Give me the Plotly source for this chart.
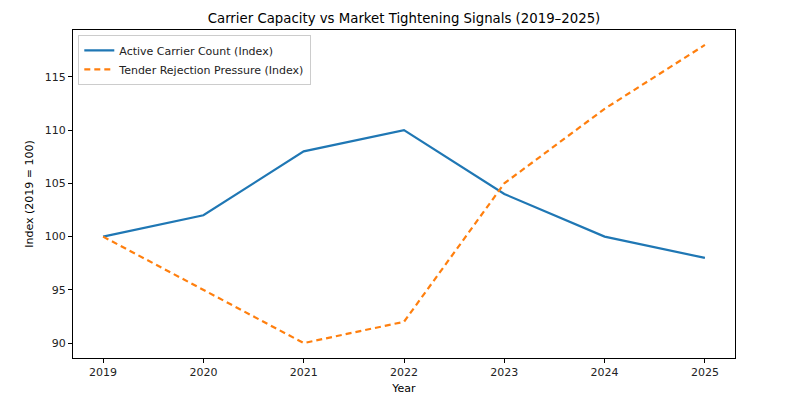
import plotly.graph_objects as go

years = [2019, 2020, 2021, 2022, 2023, 2024, 2025]
active_carriers = [100, 102, 108, 110, 104, 100, 98]
tender_rejection = [100, 95, 90, 92, 105, 112, 118]
y_ticks = [90, 95, 100, 105, 110, 115]

font = "DejaVu Sans"
fig = go.Figure()
fig.add_trace(go.Scatter(x=years, y=active_carriers, mode="lines",
                         name="Active Carrier Count (Index)",
                         line=dict(color="#1f77b4", width=2.2)))
fig.add_trace(go.Scatter(x=years, y=tender_rejection, mode="lines",
                         name="Tender Rejection Pressure (Index)",
                         line=dict(color="#ff7f0e", width=2.2, dash="6px,4px")))

axis_common = dict(showgrid=False, zeroline=False, showline=True, linecolor="black",
                   linewidth=1, mirror=True, ticks="outside", ticklen=4, tickwidth=1,
                   tickcolor="black", tickfont=dict(family=font, size=11, color="#222"))
W, H = 793, 401
L, R, T, B = 65, 66, 22, 51
fig.update_layout(
    width=W, height=H,
    margin=dict(l=L, r=R, t=T, b=B),
    paper_bgcolor="white", plot_bgcolor="white",
    title=dict(text="Carrier Capacity vs Market Tightening Signals (2019–2025)",
               x=(L + (W - R)) / 2 / W, xanchor="center", y=1 - 10 / H, yanchor="middle",
               font=dict(family=font, size=13.3, color="black")),
    xaxis=dict(range=[2018.7, 2025.3], tickvals=years, ticktext=[str(y) for y in years],
               title=dict(text="Year", font=dict(family=font, size=11, color="black"), standoff=6),
               **axis_common),
    yaxis=dict(range=[88.6, 119.4], tickvals=y_ticks, ticktext=[str(v) for v in y_ticks],
               title=dict(text="Index (2019 = 100)", font=dict(family=font, size=11, color="black"), standoff=8),
               **axis_common),
    legend=dict(x=0.008, y=0.985, xanchor="left", yanchor="top",
                bgcolor="rgba(255,255,255,0.8)", bordercolor="#ccc", borderwidth=1,
                font=dict(family=font, size=11, color="#222"), tracegroupgap=0),
    showlegend=True,
)
fig.write_html("out.html")
